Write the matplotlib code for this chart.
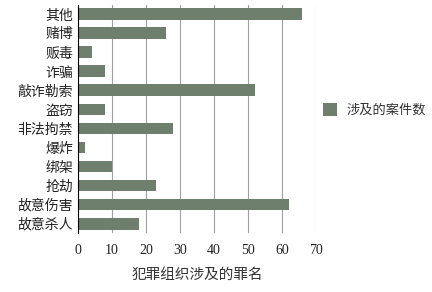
import matplotlib.pyplot as plt

plt.rcParams['font.family'] = ['Liberation Serif', 'Noto Sans CJK SC']

crimes = ["其他", "赌博", "贩毒", "诈骗", "敲诈勒索", "盗窃", "非法拘禁",
          "爆炸", "绑架", "抢劫", "故意伤害", "故意杀人"]
counts = [66, 26, 4, 8, 52, 8, 28, 2, 10, 23, 62, 18]
xticks = [0, 10, 20, 30, 40, 50, 60, 70]

fig = plt.figure(figsize=(4.32, 2.92), dpi=100)
ax = fig.add_axes([0.1806, 0.202, 0.551, 0.781])

ypos = list(range(len(crimes)))[::-1]
ax.barh(ypos, counts, height=0.63, color='#6f7f6e', label='涉及的案件数', zorder=3)

ax.set_xlim(0, 70)
ax.set_ylim(-0.5, len(crimes) - 0.5)
ax.set_xticks(xticks)
ax.set_xticklabels([str(t) for t in xticks], family=['Liberation Serif'])
ax.set_yticks(ypos)
ax.set_yticklabels(crimes, fontsize=10, color='#222222')
ax.tick_params(axis='both', length=0, colors='#222222')
ax.tick_params(axis='x', labelsize=10, pad=8)
ax.grid(axis='x', color='#a0a0a0', linewidth=0.8, zorder=0)
for s in ['top', 'right', 'bottom']:
    ax.spines[s].set_visible(False)
ax.spines['left'].set_color('black')
ax.spines['left'].set_zorder(4)

ax.set_xlabel('犯罪组织涉及的罪名', fontsize=10.5, color='#333333', fontweight='medium',
              labelpad=8, family=['Noto Sans CJK SC'])

ax.legend(loc='center left', bbox_to_anchor=(1.0, 0.54), frameon=False,
          borderaxespad=0.2, borderpad=0.3,
          fontsize=9.5, handlelength=1.1, handleheight=1.1, handletextpad=0.7,
          labelcolor='#333333')

fig.savefig('out.png', dpi=100)
